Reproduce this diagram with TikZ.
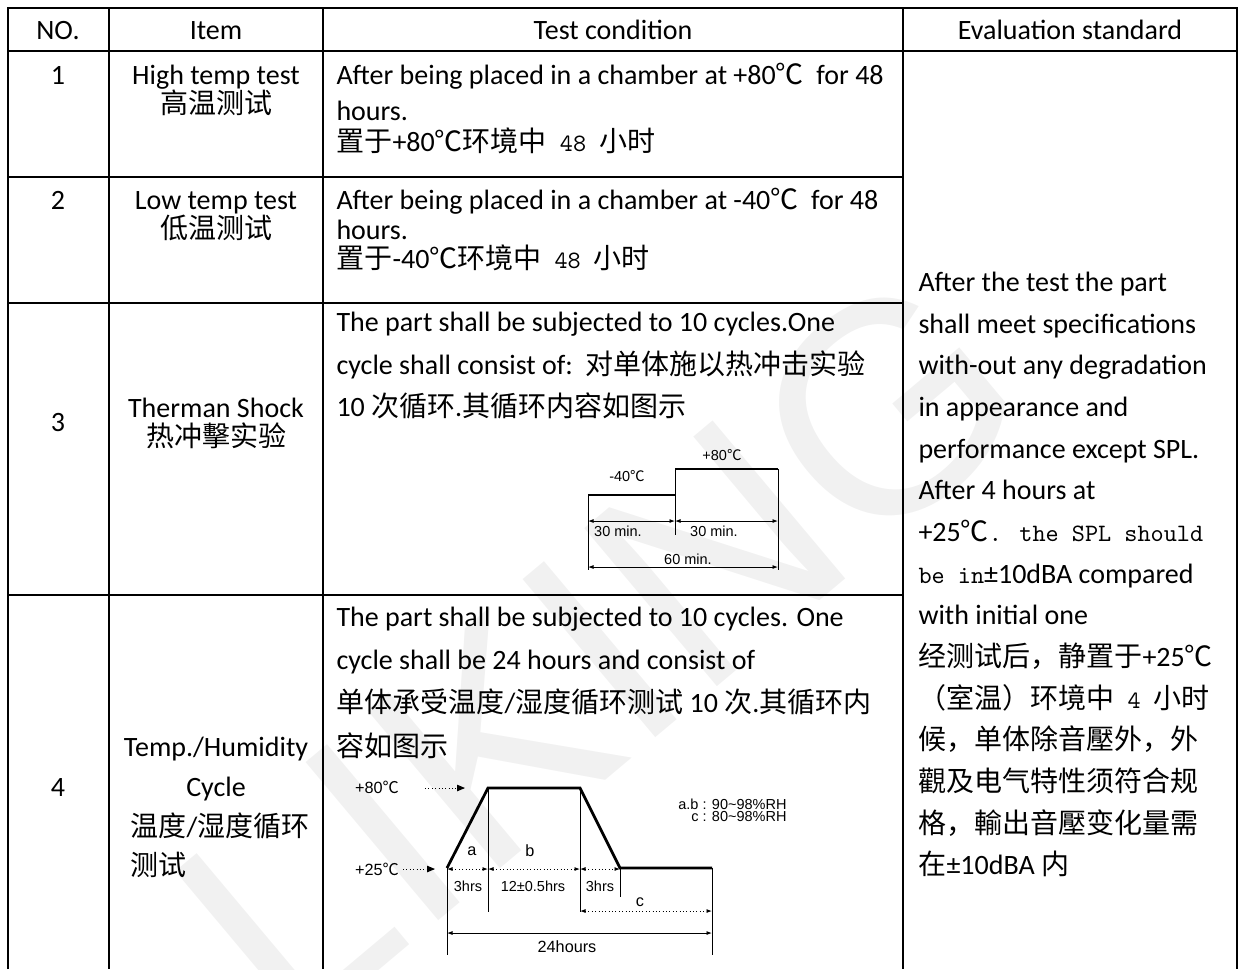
\documentclass[tikz,border=0pt]{standalone}
\usepackage{fontspec}
\setmainfont{Carlito}
\newfontfamily\cjk{Noto Sans CJK SC}
\newfontfamily\arial{Liberation Sans}
\usetikzlibrary{arrows.meta}
\newcommand{\tempC}{{\cjk ℃}}
\newcommand{\sunlat}[1]{{\ttfamily\fontsize{10}{13}\selectfont #1}}

\begin{document}
\begin{tikzpicture}[x=0.4pt,y=-0.4pt,
  every node/.append style={inner sep=0pt},
  txt/.style={anchor=base west,font=\fontsize{11.2}{13}\selectfont},
  ctr/.style={anchor=base,font=\fontsize{11.2}{13}\selectfont},
  rule/.style={line width=0.6pt},
  lbl/.style={font=\arial\fontsize{5.8}{7}\selectfont},
  biglbl/.style={font=\arial\fontsize{6.5}{8}\selectfont},
  profile/.style={line width=1.1pt},
  hair/.style={line width=0.35pt},
  dim/.style={hair,{Latex[length=2.2pt,width=1.6pt]}-{Latex[length=2.2pt,width=1.6pt]}},
  dotdim/.style={dim,densely dotted},
  pointer/.style={hair,densely dotted,-{Triangle[length=3.2pt,width=2.6pt]}},
  watermark/.style={font=\arial\fontsize{120}{120}\selectfont,text=gray!11}]
\useasboundingbox (0,0) rectangle (1243,969);

% watermark
\node[watermark,rotate=40] (wm) at (600,650) {LIKING};

% table rules
\draw[rule] (8,969) -- (8,8) -- (1237,8) -- (1237,969);
\draw[rule] (109,8) -- (109,969);
\draw[rule] (323,8) -- (323,969);
\draw[rule] (903,8) -- (903,969);
\draw[rule] (8,51) -- (1237,51);
\draw[rule] (8,177) -- (903,177);
\draw[rule] (8,303) -- (903,303);
\draw[rule] (8,595) -- (903,595);

% header
\node[ctr] (hno) at (58,39) {NO.};
\node[ctr] (hitem) at (216,39) {Item};
\node[ctr] (hcond) at (613,39) {Test condition};
\node[ctr] (heval) at (1070,39) {Evaluation standard};

% row 1
\node[ctr] (no1) at (58,84) {1};
\node[ctr] (item1) at (216,84) {High temp test};
\node[ctr] (item1c) at (216,113) {\cjk 高温测试};
\node[txt] (cond1a) at (336,84) {After being placed in a chamber at +80\tempC\ \ for 48};
\node[txt] (cond1b) at (336,120) {hours.};
\node[txt] (cond1c) at (336,151) {{\cjk 置于}+80{\cjk ℃环境中}\sunlat{ 48 }{\cjk 小时}};

% row 2
\node[ctr] (no2) at (58,209) {2};
\node[ctr] (item2) at (216,209) {Low temp test};
\node[ctr] (item2c) at (216,238) {\cjk 低温测试};
\node[txt] (cond2a) at (336,209) {After being placed in a chamber at -40\tempC\ \ for 48};
\node[txt] (cond2b) at (336,239) {hours.};
\node[txt] (cond2c) at (336,268) {{\cjk 置于}-40{\cjk ℃环境中}\sunlat{ 48 }{\cjk 小时}};

% row 3
\node[ctr] (no3) at (58,431) {3};
\node[ctr] (item3) at (216,417) {Therman Shock};
\node[ctr] (item3c) at (216,446) {\cjk 热冲擊实验};
\node[txt] (cond3a) at (336,331) {The part shall be subjected to 10 cycles.One};
\node[txt] (cond3b) at (336,374) {cycle shall consist of:\ \ {\cjk 对单体施以热冲击实验}};
\node[txt] (cond3c) at (336,416) {10{\cjk\ 次循环}.{\cjk 其循环内容如图示}};

% thermal shock chart
\coordinate (tsL) at (588,495);
\coordinate (tsM) at (675,495);
\coordinate (tsMt) at (675,469);
\coordinate (tsR) at (778,469);
\coordinate (tsLb) at (588,570);
\coordinate (tsMb) at (675,535);
\coordinate (tsRb) at (778,570);
\coordinate (ts1a) at (588,521);
\coordinate (ts1b) at (675,521);
\coordinate (ts1c) at (778,521);
\coordinate (ts2a) at (588,567);
\coordinate (ts2b) at (778,567);
\draw[profile] (tsL) -- (tsM);
\draw[profile] (tsMt) -- (tsR);
\draw[hair] (tsL) -- (tsLb);
\draw[hair] (tsMt) -- (tsMb);
\draw[hair] (tsR) -- (tsRb);
\draw[dim] (ts1a) -- (ts1b);
\draw[dim] (ts1b) -- (ts1c);
\draw[dim] (ts2a) -- (ts2b);
\node[lbl] (tsLo) at (627,476) {-40\tempC};
\node[lbl] (tsHi) at (722,455) {+80\tempC};
\node[lbl] (ts30a) at (618,531) {30 min.};
\node[lbl] (ts30b) at (714,531) {30 min.};
\node[lbl] (ts60) at (688,559) {60 min.};

% row 4
\node[ctr] (no4) at (58,796) {4};
\node[ctr] (item4) at (216,756) {Temp./Humidity};
\node[ctr] (item4b) at (216,796) {Cycle};
\node[txt] (item4c) at (130,836) {{\cjk 温度}/{\cjk 湿度循环}};
\node[txt] (item4d) at (130,875) {\cjk 测试};
\node[txt] (cond4a) at (336,626) {The part shall be subjected to 10 cycles. One};
\node[txt] (cond4b) at (336,669) {cycle shall be 24 hours and consist of};
\node[txt] (cond4c) at (336,712) {{\cjk 单体承受温度}/{\cjk 湿度循环测试} 10 {\cjk 次}.{\cjk 其循环内}};
\node[txt] (cond4d) at (336,756) {\cjk 容如图示};

% temperature / humidity chart
\coordinate (th0) at (447,868);
\coordinate (th1) at (488,788);
\coordinate (th2) at (580,788);
\coordinate (th3) at (620,868);
\coordinate (th4) at (712,868);
\coordinate (th0b) at (447,955);
\coordinate (th1b) at (488,912);
\coordinate (th2b) at (580,912);
\coordinate (th3b) at (620,897);
\coordinate (th4b) at (712,955);
\draw[profile] (th0) -- (th1) -- (th2) -- (th3) -- (th4);
\draw[hair] (th0) -- (th0b);
\draw[hair] (th1) -- (th1b);
\draw[hair] (th2) -- (th2b);
\draw[hair] (th3) -- (th3b);
\draw[hair] (th4) -- (th4b);
\coordinate (da0) at (447,869);
\coordinate (da1) at (488,869);
\coordinate (da2) at (580,869);
\coordinate (da3) at (620,869);
\coordinate (dc0) at (580,911);
\coordinate (dc1) at (712,911);
\coordinate (dt0) at (447,933);
\coordinate (dt1) at (712,933);
\draw[dotdim] (da0) -- (da1);
\draw[dotdim] (da1) -- (da2);
\draw[dotdim] (da2) -- (da3);
\draw[dotdim] (dc0) -- (dc1);
\draw[dim] (dt0) -- (dt1);
\node[biglbl] (thHi) at (377,787) {+80\tempC};
\node[biglbl] (thLo) at (377,869) {+25\tempC};
\coordinate (p80a) at (425,788);
\coordinate (p80b) at (465,788);
\coordinate (p25a) at (403,869);
\coordinate (p25b) at (435,869);
\draw[pointer] (p80a) -- (p80b);
\draw[pointer] (p25a) -- (p25b);
\node[biglbl] (lba) at (472,851) {a};
\node[biglbl] (lbb) at (530,851) {b};
\node[lbl] (hr1) at (468,886) {3hrs};
\node[lbl] (hr2) at (533,886) {12±0.5hrs};
\node[lbl] (hr3) at (600,886) {3hrs};
\node[biglbl] (lbc) at (640,902) {c};
\node[biglbl] (hr24) at (567,947) {24hours};
\node[lbl,anchor=east] (rhab) at (787,804) {a.b : 90\textasciitilde 98\%RH};
\node[lbl,anchor=east] (rhc) at (787,816) {c : 80\textasciitilde 98\%RH};

% evaluation standard (rows 1-4 merged)
\node[txt] (ev1) at (918,291) {After the test the part};
\node[txt] (ev2) at (918,333) {shall meet specifications};
\node[txt] (ev3) at (918,374) {with-out any degradation};
\node[txt] (ev4) at (918,416) {in appearance and};
\node[txt] (ev5) at (918,458) {performance except SPL.};
\node[txt] (ev6) at (918,499) {After 4 hours at};
\node[txt] (ev7) at (918,541) {+25\tempC\sunlat{. the SPL should}};
\node[txt] (ev8) at (918,583) {\sunlat{be in}±10dBA compared};
\node[txt] (ev9) at (918,624) {with initial one};
\node[txt] (ev10) at (918,666) {{\cjk 经测试后，静置于}+25\tempC};
\node[txt] (ev11) at (918,708) {{\cjk （室温）环境中}\sunlat{ 4 }{\cjk 小时}};
\node[txt] (ev12) at (918,749) {\cjk 候，单体除音壓外，外};
\node[txt] (ev13) at (918,791) {\cjk 觀及电气特性须符合规};
\node[txt] (ev14) at (918,833) {\cjk 格，輸出音壓变化量需};
\node[txt] (ev15) at (918,874) {{\cjk 在}±10dBA {\cjk 内}};
\end{tikzpicture}
\end{document}
